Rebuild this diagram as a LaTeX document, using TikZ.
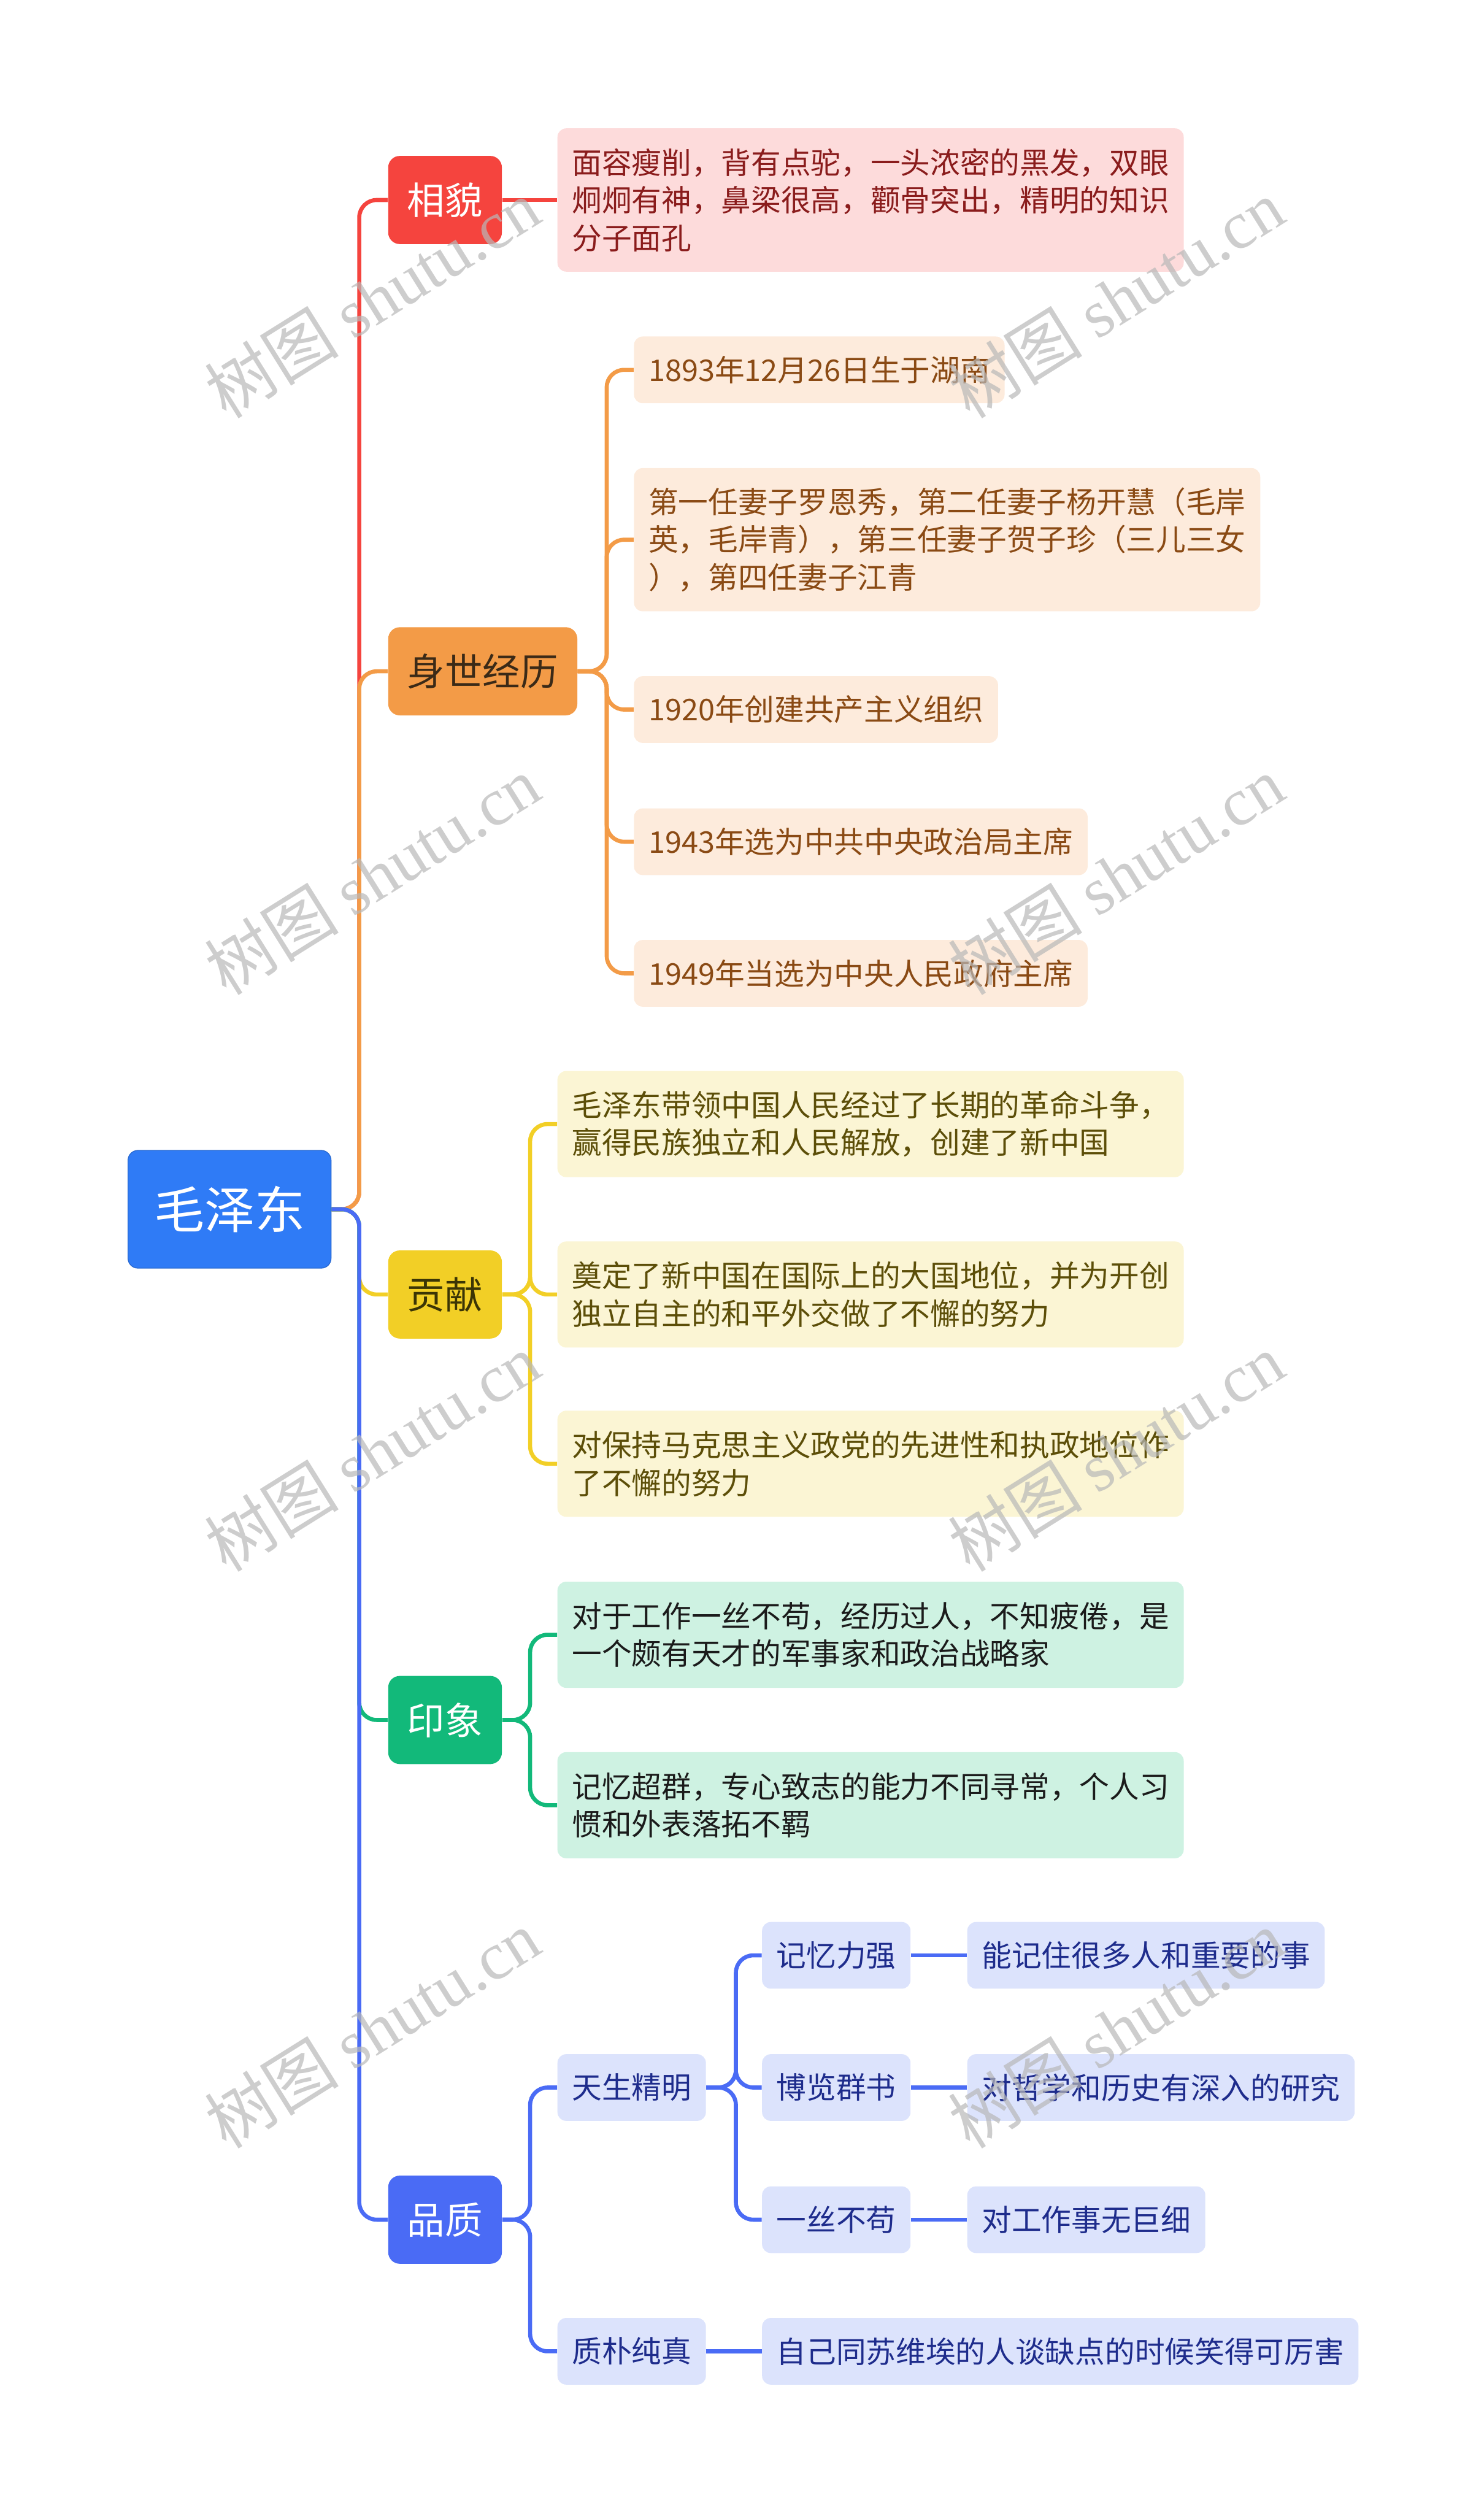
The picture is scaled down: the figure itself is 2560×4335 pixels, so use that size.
\documentclass[tikz,border=0pt]{standalone}
\usepackage{fontspec}
\setmainfont{Noto Sans CJK SC}
\newfontfamily\wmlatin{Liberation Serif}
\usetikzlibrary{calc,positioning}
\definecolor{rootC}{HTML}{2F7BF6}
\definecolor{xmC}{HTML}{F5443E}
\definecolor{xmBg}{HTML}{FDDBDB}
\definecolor{xmTx}{HTML}{8A1C1C}
\definecolor{sjC}{HTML}{F39B47}
\definecolor{sjBg}{HTML}{FDEBDC}
\definecolor{sjTx}{HTML}{8A4A14}
\definecolor{sjHd}{HTML}{3B2A17}
\definecolor{gxC}{HTML}{F2CF26}
\definecolor{gxBg}{HTML}{FBF5D4}
\definecolor{gxTx}{HTML}{5C4E08}
\definecolor{gxHd}{HTML}{3B3505}
\definecolor{yxC}{HTML}{12B97A}
\definecolor{yxBg}{HTML}{CEF2E2}
\definecolor{yxTx}{HTML}{1B1B1B}
\definecolor{pzC}{HTML}{4A6BF5}
\definecolor{pzBg}{HTML}{DCE3FC}
\definecolor{pzTx}{HTML}{1E2C8C}
\definecolor{wmC}{HTML}{B8B8B8}

\begin{document}
\begin{tikzpicture}[x=0.01cm,y=-0.01cm,
    rootbox/.style={fill=rootC,draw=rootC!85!black,line width=0.4pt,rounded corners=0.17cm,
      text=white,minimum width=3.5cm,minimum height=2.03cm,inner sep=0pt,
      font=\fontsize{24.7pt}{28pt}\selectfont},
    topic/.style={rounded corners=0.2cm,minimum height=1.52cm,inner xsep=0.33cm,inner ysep=0pt,
      anchor=west,font=\fontsize{18.5pt}{22pt}\selectfont},
    leaf/.style={rounded corners=0.15cm,minimum height=1.15cm,inner xsep=0.25cm,inner ysep=0pt,
      anchor=west,align=left,font=\fontsize{14.65pt}{18.5pt}\selectfont},
    twoline/.style={minimum height=1.83cm},
    threeline/.style={minimum height=2.47cm},
    link/.style={line width=0.07cm,rounded corners=0.3cm},
    watermark/.style={text=wmC,opacity=0.7,rotate=32,font=\fontsize{33pt}{36pt}\selectfont}]
  \useasboundingbox (0,0) rectangle (2560,4335);

  % central topic
  \node[rootbox] (mao) at (396,2086) {毛泽东};

  % main branches
  \node[topic,fill=xmC,text=white] (xm) at (669,345) {相貌};
  \node[topic,fill=sjC,text=sjHd] (sj) at (669,1158) {身世经历};
  \node[topic,fill=gxC,text=gxHd] (gx) at (669,2233) {贡献};
  \node[topic,fill=yxC,text=white] (yx) at (669,2967) {印象};
  \node[topic,fill=pzC,text=white] (pz) at (669,3829) {品质};

  % 相貌
  \node[leaf,threeline,fill=xmBg,text=xmTx] (xm1) at (961,345)
    {面容瘦削，背有点驼，一头浓密的黑发，双眼\\炯炯有神，鼻梁很高，颧骨突出，精明的知识\\分子面孔};

  % 身世经历
  \node[leaf,fill=sjBg,text=sjTx] (sj1) at (1093,638) {1893年12月26日生于湖南};
  \node[leaf,threeline,fill=sjBg,text=sjTx] (sj2) at (1093,931)
    {第一任妻子罗恩秀，第二任妻子杨开慧（毛岸\\英，毛岸青），第三任妻子贺子珍（三儿三女\\），第四任妻子江青};
  \node[leaf,fill=sjBg,text=sjTx] (sj3) at (1093,1224) {1920年创建共产主义组织};
  \node[leaf,fill=sjBg,text=sjTx] (sj4) at (1093,1452) {1943年选为中共中央政治局主席};
  \node[leaf,fill=sjBg,text=sjTx] (sj5) at (1093,1679) {1949年当选为中央人民政府主席};

  % 贡献
  \node[leaf,twoline,fill=gxBg,text=gxTx] (gx1) at (961,1939)
    {毛泽东带领中国人民经过了长期的革命斗争，\\赢得民族独立和人民解放，创建了新中国};
  \node[leaf,twoline,fill=gxBg,text=gxTx] (gx2) at (961,2233)
    {奠定了新中国在国际上的大国地位，并为开创\\独立自主的和平外交做了不懈的努力};
  \node[leaf,twoline,fill=gxBg,text=gxTx] (gx3) at (961,2525)
    {对保持马克思主义政党的先进性和执政地位作\\了不懈的努力};

  % 印象
  \node[leaf,twoline,fill=yxBg,text=yxTx] (yx1) at (961,2820)
    {对于工作一丝不苟，经历过人，不知疲倦，是\\一个颇有天才的军事家和政治战略家};
  \node[leaf,twoline,fill=yxBg,text=yxTx] (yx2) at (961,3114)
    {记忆超群，专心致志的能力不同寻常，个人习\\惯和外表落拓不羁};

  % 品质
  \node[leaf,fill=pzBg,text=pzTx] (pz1) at (961,3601) {天生精明};
  \node[leaf,fill=pzBg,text=pzTx] (pz2) at (961,4056) {质朴纯真};
  \node[leaf,fill=pzBg,text=pzTx] (pz11) at (1314,3373) {记忆力强};
  \node[leaf,fill=pzBg,text=pzTx] (pz12) at (1314,3601) {博览群书};
  \node[leaf,fill=pzBg,text=pzTx] (pz13) at (1314,3829) {一丝不苟};
  \node[leaf,fill=pzBg,text=pzTx] (pz111) at (1668,3373) {能记住很多人和重要的事};
  \node[leaf,fill=pzBg,text=pzTx] (pz121) at (1668,3601) {对哲学和历史有深入的研究};
  \node[leaf,fill=pzBg,text=pzTx] (pz131) at (1668,3829) {对工作事无巨细};
  \node[leaf,fill=pzBg,text=pzTx] (pz21) at (1314,4056) {自己同苏维埃的人谈缺点的时候笑得可厉害};

  % trunk points
  \coordinate (mt) at ($(mao.east)+(48,0)$);
  \coordinate (sjt) at ($(sj.east)+(50,0)$);
  \coordinate (gxt) at ($(gx.east)+(48,0)$);
  \coordinate (yxt) at ($(yx.east)+(48,0)$);
  \coordinate (pzt) at ($(pz.east)+(48,0)$);
  \coordinate (pz1t) at ($(pz1.east)+(51,0)$);

  % connectors, the farthest branch drawn last
  \draw[link,xmC] (mao.east) -- (mt) |- (xm.west);
  \draw[link,sjC] (mao.east) -- (mt) |- (sj.west);
  \draw[link,gxC] (mao.east) -- (mt) |- (gx.west);
  \draw[link,yxC] (mao.east) -- (mt) |- (yx.west);
  \draw[link,pzC] (mao.east) -- (mt) |- (pz.west);

  \draw[link,xmC] (xm.east) -- (xm1.west);
  \foreach \c in {sj1,sj2,sj3,sj4,sj5}
    \draw[link,sjC] (sj.east) -- (sjt) |- (\c.west);
  \foreach \c in {gx1,gx2,gx3}
    \draw[link,gxC] (gx.east) -- (gxt) |- (\c.west);
  \foreach \c in {yx1,yx2}
    \draw[link,yxC] (yx.east) -- (yxt) |- (\c.west);
  \foreach \c in {pz1,pz2}
    \draw[link,pzC] (pz.east) -- (pzt) |- (\c.west);
  \foreach \c in {pz11,pz12,pz13}
    \draw[link,pzC] (pz1.east) -- (pz1t) |- (\c.west);
  \draw[link,pzC] (pz11.east) -- (pz111.west);
  \draw[link,pzC] (pz12.east) -- (pz121.west);
  \draw[link,pzC] (pz13.east) -- (pz131.west);
  \draw[link,pzC] (pz2.east) -- (pz21.west);

  % watermark
  \foreach \wy [count=\i] in {515,1510,2505,3500}
    \foreach \wx [count=\j] in {642,1925}
      \node[watermark] (wm\i\j) at (\wx,\wy) {树图 {\wmlatin shutu.cn}};
\end{tikzpicture}
\end{document}
